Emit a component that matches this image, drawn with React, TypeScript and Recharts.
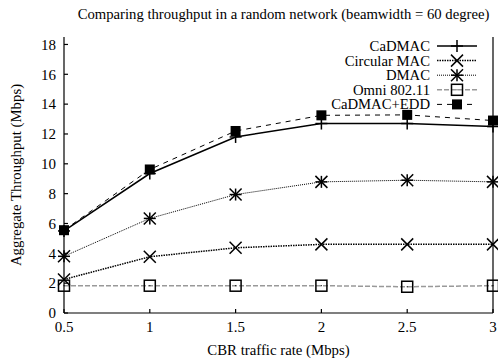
import React from "react";
import { LineChart, Line, XAxis, YAxis, Legend } from "recharts";

const rates = [0.5, 1, 1.5, 2, 2.5, 3];
const cadmac = [5.5, 9.35, 11.8, 12.7, 12.7, 12.5];
const circularMac = [2.25, 3.77, 4.37, 4.6, 4.6, 4.6];
const dmac = [3.8, 6.34, 7.94, 8.79, 8.9, 8.79];
const omni = [1.83, 1.83, 1.83, 1.83, 1.76, 1.83];
const cadmacEdd = [5.55, 9.62, 12.2, 13.25, 13.28, 12.9];
const yTicks = [0, 2, 4, 6, 8, 10, 12, 14, 16, 18];

const FONT = '"Liberation Serif", "DejaVu Serif", serif';

type Marker = "plus" | "cross" | "star" | "box" | "fbox";

const drawMarker = (kind: Marker, cx: number, cy: number, key?: React.Key) => {
  const s = 6;
  if (kind === "plus")
    return (
      <g key={key} stroke="#000" strokeWidth={1.5}>
        <line x1={cx - s} y1={cy} x2={cx + s} y2={cy} />
        <line x1={cx} y1={cy - s} x2={cx} y2={cy + s} />
      </g>
    );
  if (kind === "cross")
    return (
      <g key={key} stroke="#000" strokeWidth={1.5}>
        <line x1={cx - s} y1={cy - s} x2={cx + s} y2={cy + s} />
        <line x1={cx - s} y1={cy + s} x2={cx + s} y2={cy - s} />
      </g>
    );
  if (kind === "star")
    return (
      <g key={key} stroke="#000" strokeWidth={1.5}>
        <line x1={cx - s} y1={cy - s} x2={cx + s} y2={cy + s} />
        <line x1={cx - s} y1={cy + s} x2={cx + s} y2={cy - s} />
        <line x1={cx - s} y1={cy} x2={cx + s} y2={cy} />
        <line x1={cx} y1={cy - s} x2={cx} y2={cy + s} />
      </g>
    );
  if (kind === "box")
    return (
      <g key={key}>
        <rect x={cx - 5.5} y={cy - 5.5} width={11} height={11} fill="none" stroke="#000" strokeWidth={1.5} />
        <rect x={cx - 0.5} y={cy - 0.5} width={1} height={1} fill="#000" />
      </g>
    );
  return <rect key={key} x={cx - 5} y={cy - 5} width={10} height={10} fill="#000" />;
};

const series = [
  { key: "omni", name: "Omni 802.11", values: omni, marker: "box" as Marker, stroke: "#999", width: 1.5, dash: "5 2" },
  { key: "dmac", name: "DMAC", values: dmac, marker: "star" as Marker, stroke: "#000", width: 1, dash: "1 1" },
  { key: "circ", name: "Circular MAC", values: circularMac, marker: "cross" as Marker, stroke: "#000", width: 1.5, dash: "1.5 1" },
  { key: "cadmac", name: "CaDMAC", values: cadmac, marker: "plus" as Marker, stroke: "#000", width: 1.5, dash: undefined },
  { key: "edd", name: "CaDMAC+EDD", values: cadmacEdd, marker: "fbox" as Marker, stroke: "#000", width: 1, dash: "5 5" },
];

const legendOrder = ["cadmac", "circ", "dmac", "omni", "edd"];

const data = rates.map((x, i) => {
  const row: Record<string, number> = { x };
  series.forEach((s) => (row[s.key] = s.values[i]));
  return row;
});

function LegendBox() {
  return (
    <svg width={498} height={358} style={{ position: "absolute", left: 0, top: 0 }}>
      {legendOrder.map((k, i) => {
        const s = series.find((d) => d.key === k)!;
        const y = 46 + i * 14.6;
        return (
          <g key={k}>
            <text x={430} y={y + 5} textAnchor="end" fontFamily={FONT} fontSize={14.7} fill="#000">
              {s.name}
            </text>
            <line x1={437} y1={y} x2={477} y2={y} stroke={s.stroke} strokeWidth={s.width} strokeDasharray={s.dash} />
            {drawMarker(s.marker, 457, y)}
          </g>
        );
      })}
    </svg>
  );
}

export default function App() {
  const tickStyle = { fontFamily: FONT, fontSize: 15, fill: "#000" };
  const labelStyle = { fontFamily: FONT, fontSize: 14.8, fill: "#000" };
  return (
    <div style={{ position: "absolute", left: 0, top: 0, width: 498, height: 358, background: "#fff" }}>
      <div
        style={{
          position: "absolute",
          left: 0,
          top: 6,
          width: 567,
          textAlign: "center",
          fontFamily: FONT,
          fontSize: 14.7,
          whiteSpace: "nowrap",
        }}
      >
        Comparing throughput in a random network (beamwidth = 60 degree)
      </div>
      <LineChart width={498} height={358} data={data} margin={{ top: 37, right: 4, bottom: 0, left: 0 }}>
        <XAxis
          dataKey="x"
          type="number"
          domain={[0.5, 3]}
          ticks={rates}
          height={45}
          tickSize={-4}
          tickMargin={12}
          stroke="#000"
          strokeWidth={1.2}
          tick={tickStyle}
          label={{ value: "CBR traffic rate (Mbps)", position: "insideBottom", offset: 3, style: labelStyle }}
        />
        <XAxis
          xAxisId="top"
          dataKey="x"
          type="number"
          orientation="top"
          domain={[0.5, 3]}
          ticks={rates}
          height={0}
          tickSize={-4}
          tick={false}
          stroke="#000"
          strokeWidth={1.2}
        />
        <YAxis
          type="number"
          domain={[0, 18.5]}
          ticks={yTicks}
          width={64}
          tickSize={-4}
          tickMargin={12}
          stroke="#000"
          strokeWidth={1.2}
          tick={tickStyle}
          label={{
            value: "Aggregate Throughput (Mbps)",
            angle: -90,
            position: "insideLeft",
            offset: 16,
            style: { ...labelStyle, textAnchor: "middle" },
          }}
        />
        <YAxis
          yAxisId="right"
          type="number"
          orientation="right"
          domain={[0, 18.5]}
          ticks={yTicks}
          width={1}
          tickSize={-4}
          tick={false}
          stroke="#000"
          strokeWidth={1.2}
        />
        {series.map((s) => (
          <Line
            key={s.key}
            dataKey={s.key}
            name={s.name}
            stroke={s.stroke}
            strokeWidth={s.width}
            strokeDasharray={s.dash}
            isAnimationActive={false}
            dot={(p: any) => drawMarker(s.marker, p.cx, p.cy, `${s.key}-${p.index}`)}
            activeDot={false}
          />
        ))}
        <Legend
          layout="horizontal"
          verticalAlign="middle"
          align="center"
          content={() => <LegendBox />}
          wrapperStyle={{ position: "absolute", left: 0, top: 0, width: 498, height: 358 }}
        />
      </LineChart>
    </div>
  );
}
